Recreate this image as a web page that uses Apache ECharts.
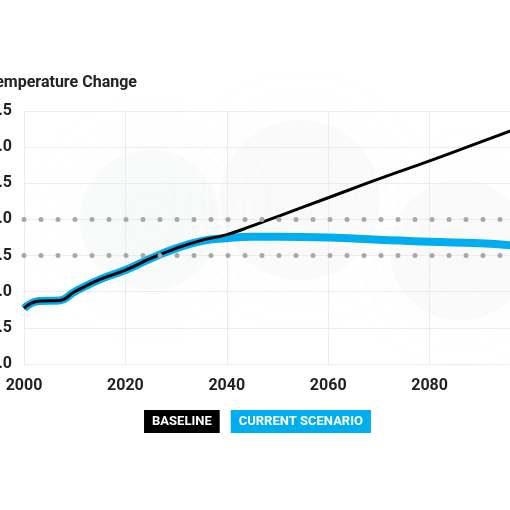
<!DOCTYPE html>
<html><head><meta charset="utf-8">
<script src="https://cdn.jsdelivr.net/npm/echarts@6/dist/echarts.min.js"></script>
<style>html,body{margin:0;padding:0;background:#fff}#c{width:510px;height:510px}</style>
</head><body><div id="c"></div>
<script>
const years = [2000,2003,2007,2010,2015,2020,2025,2030,2035,2040,2045,2050,2060,2070,2080,2090,2100];
const baseline = [0.77,0.87,0.88,1.0,1.17,1.30,1.46,1.60,1.71,1.79,1.91,2.04,2.30,2.56,2.81,3.07,3.33];
const current  = [0.77,0.87,0.88,1.0,1.17,1.30,1.46,1.60,1.70,1.74,1.76,1.76,1.75,1.72,1.69,1.67,1.62];
const seriesNames = ['BASELINE','CURRENT SCENARIO'];
const refLevels = [1.5,2.0];
const chart = echarts.init(document.getElementById('c'));
const pair = (a)=>years.map((y,i)=>[y,a[i]]);
chart.setOption({
  backgroundColor:'#fff',
  animation:false,
  graphic:[
    {type:'circle',shape:{cx:150,cy:220,r:70},style:{fill:'rgba(215,218,222,0.12)',shadowBlur:80,shadowColor:'rgba(215,218,222,0.5)'},z:-10},
    {type:'circle',shape:{cx:300,cy:200,r:80},style:{fill:'rgba(215,218,222,0.10)',shadowBlur:80,shadowColor:'rgba(215,218,222,0.5)'},z:-10},
    {type:'circle',shape:{cx:460,cy:250,r:70},style:{fill:'rgba(215,218,222,0.10)',shadowBlur:80,shadowColor:'rgba(215,218,222,0.5)'},z:-10}
  ],
  title:{text:'Temperature Change',left:-19,top:70,textStyle:{fontFamily:'Roboto',fontWeight:'bold',fontSize:16,color:'#222'}},
  legend:{
    bottom:72,left:'center',itemGap:6,icon:'none',itemWidth:0,itemHeight:0,selectedMode:false,
    data:[
      {name:seriesNames[0],textStyle:{backgroundColor:'#000',color:'#fff'}},
      {name:seriesNames[1],textStyle:{backgroundColor:'#00aeef',color:'#fff'}}
    ],
    textStyle:{fontFamily:'Roboto',fontWeight:'bold',fontSize:13,padding:[5,8,5,8]}
  },
  grid:{left:24,right:-21,top:111,bottom:146,containLabel:false,outerBoundsMode:'none'},
  xAxis:{type:'value',min:2000,max:2100,interval:20,
    axisLine:{show:false},axisTick:{show:false},
    splitLine:{lineStyle:{color:'#ececec'}},
    axisLabel:{fontFamily:'Roboto',fontWeight:'bold',fontSize:16,color:'#222',margin:14,formatter:v=>String(v)}},
  yAxis:{type:'value',min:0,max:3.5,interval:0.5,
    axisLine:{show:false},axisTick:{show:false},
    splitLine:{lineStyle:{color:'#ececec'}},
    axisLabel:{fontFamily:'Roboto',fontWeight:'bold',fontSize:16,color:'#222',margin:12,formatter:v=>v.toFixed(1)}},
  series:[
    {name:seriesNames[1],type:'line',smooth:true,showSymbol:false,data:pair(current),
      lineStyle:{color:'#00aeef',width:8},itemStyle:{color:'#00aeef'},z:2,
      markLine:{silent:true,symbol:'none',label:{show:false},
        lineStyle:{color:'#a8a8a8',width:5,type:[0,17],cap:'round'},
        data:refLevels.map(v=>({yAxis:v}))}},
    {name:seriesNames[0],type:'line',smooth:true,showSymbol:false,data:pair(baseline),
      lineStyle:{color:'#000',width:3},itemStyle:{color:'#000'},z:3}
  ]
});
</script></body></html>
